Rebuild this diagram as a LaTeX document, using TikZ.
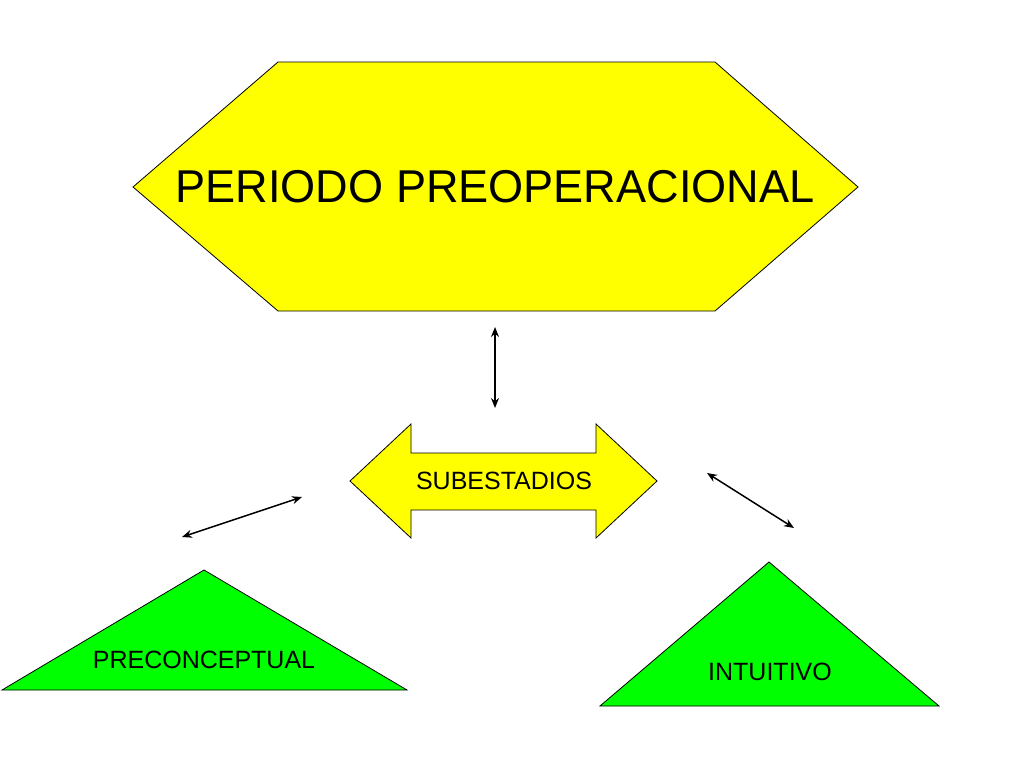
\documentclass[tikz,border=0pt]{standalone}
\usepackage{fontspec}
\setmainfont{Liberation Sans}
\usetikzlibrary{arrows.meta}
\definecolor{hexyellow}{RGB}{255,255,0}
\definecolor{trigreen}{RGB}{0,255,0}
\begin{document}
\begin{tikzpicture}[x=1pt,y=-1pt,
  outl/.style={draw=black,line width=0.8pt,line join=miter},
  yel/.style={outl,fill=hexyellow},
  grn/.style={outl,fill=trigreen},
  conn/.style={line width=1.5pt,{Stealth[length=10pt,width=8pt]}-{Stealth[length=10pt,width=8pt]}},
  lbl/.style={inner sep=0pt,font=\fontsize{25}{30}\selectfont}]
\useasboundingbox (0,0) rectangle (1024,768);
% hexagon
\draw[yel] (133,187) -- (278,62) -- (715,62) -- (858,187) -- (715,311) -- (278,311) -- cycle;
\node[inner sep=0pt,font=\fontsize{46}{54}\selectfont,xscale=0.98] (hex) at (495,187) {PERIODO PREOPERACIONAL};
% double arrow
\draw[yel] (350,481) -- (411,424) -- (411,453) -- (596,453) -- (596,424) -- (657,481)
  -- (596,538) -- (596,510) -- (411,510) -- (411,538) -- cycle;
\node[lbl] (sub) at (504,481) {SUBESTADIOS};
% triangles
\draw[grn] (2,690) -- (204,570) -- (407,690) -- cycle;
\node[lbl] (pre) at (204,660) {PRECONCEPTUAL};
\draw[grn] (600,706) -- (769,562) -- (939,706) -- cycle;
\node[lbl] (int) at (770,672) {INTUITIVO};
% connectors
\coordinate (v1) at (495,327);
\coordinate (v2) at (495,408);
\coordinate (l1) at (182,537);
\coordinate (l2) at (302,497);
\coordinate (r1) at (707,473);
\coordinate (r2) at (794,528);
\draw[conn] (v1) -- (v2);
\draw[conn] (l1) -- (l2);
\draw[conn] (r1) -- (r2);
\end{tikzpicture}
\end{document}
